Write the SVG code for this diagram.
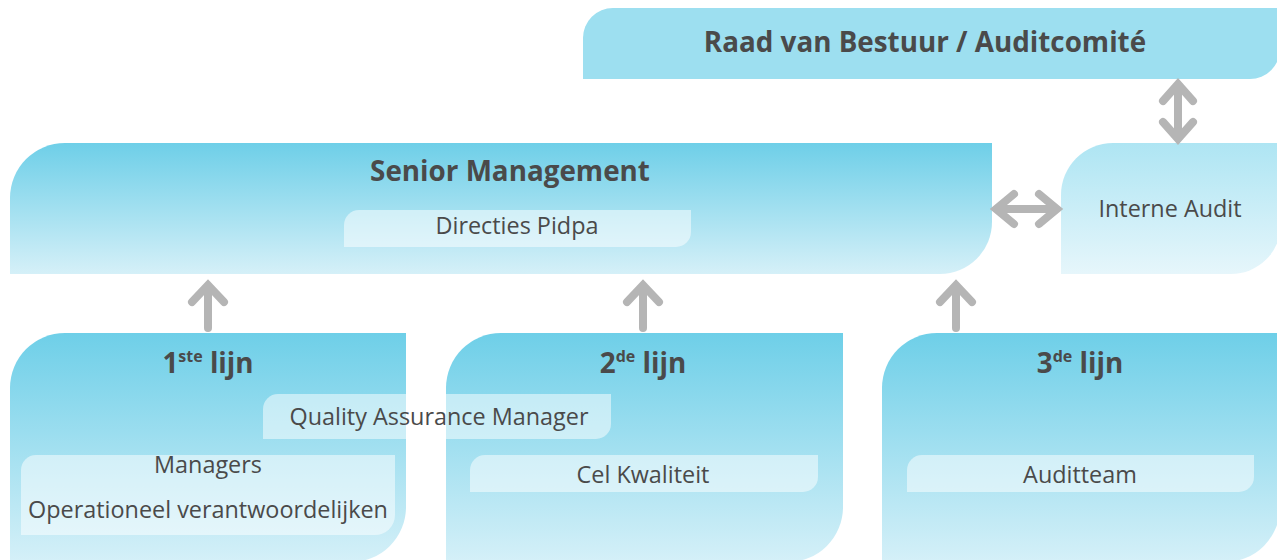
<svg xmlns="http://www.w3.org/2000/svg" width="1277" height="560" viewBox="0 0 1277 560">
<defs>
<linearGradient id="gMain" x1="0" y1="0" x2="0" y2="1">
<stop offset="0" stop-color="#6ecfe8"/><stop offset="1" stop-color="#d5f0f8"/>
</linearGradient>
<linearGradient id="gLight" x1="0" y1="0" x2="0" y2="1">
<stop offset="0" stop-color="#aee5f3"/><stop offset="1" stop-color="#e6f6fb"/>
</linearGradient>
<style>
.t{font-family:"Open Sans","Liberation Sans",sans-serif;fill:#4a4a4a;text-anchor:middle}
.b{font-weight:bold;font-size:27.8px}
.r{font-size:23.4px}
.sup{font-size:16px}
.inner{fill:#ffffff;fill-opacity:0.5}
.arr{fill:none;stroke:#b5b5b5;stroke-width:8;stroke-linecap:round;stroke-linejoin:miter}
</style>
</defs>
<g id="raad">
<path d="M583,38 A30,30 0 0 1 613,8 H1280 V49 A30,30 0 0 1 1250,79 H583 Z" fill="#9ddff0"/>
<text class="t b" x="925" y="52">Raad van Bestuur / Auditcomité</text>
</g>
<g id="senior">
<path d="M10,198 A55,55 0 0 1 65,143 H992 V222 A52,52 0 0 1 940,274 H10 Z" fill="url(#gMain)"/>
<text class="t b" x="510" y="181">Senior Management</text>
<path class="inner" d="M344,225 A15,15 0 0 1 359,210 H691 V232 A15,15 0 0 1 676,247 H344 Z"/>
<text class="t r" x="517" y="234">Directies Pidpa</text>
</g>
<g id="interne">
<path d="M1061,195 A52,52 0 0 1 1113,143 H1281 V224 A50,50 0 0 1 1231,274 H1061 Z" fill="url(#gLight)"/>
<text class="t r" x="1170" y="217">Interne Audit</text>
</g>
<g id="lijn1">
<path d="M10,388 A55,55 0 0 1 65,333 H406 V507 A55,55 0 0 1 351,562 H10 Z" fill="url(#gMain)"/>
<text class="t b" x="208" y="373">1<tspan class="sup" dy="-11">ste</tspan><tspan dy="11"> lijn</tspan></text>
<path class="inner" d="M21,470 A15,15 0 0 1 36,455 H395 V515 A20,20 0 0 1 375,535 H21 Z"/>
<text class="t r" x="208" y="473">Managers</text>
<text class="t r" x="208" y="518">Operationeel verantwoordelijken</text>
</g>
<g id="lijn2">
<path d="M446,388 A55,55 0 0 1 501,333 H843 V507 A55,55 0 0 1 788,562 H446 Z" fill="url(#gMain)"/>
<text class="t b" x="643" y="373">2<tspan class="sup" dy="-11">de</tspan><tspan dy="11"> lijn</tspan></text>
<path class="inner" d="M470,470 A15,15 0 0 1 485,455 H818 V477 A15,15 0 0 1 803,492 H470 Z"/>
<text class="t r" x="643" y="483">Cel Kwaliteit</text>
</g>
<g id="lijn3">
<path d="M882,388 A55,55 0 0 1 937,333 H1280 V507 A55,55 0 0 1 1225,562 H882 Z" fill="url(#gMain)"/>
<text class="t b" x="1080" y="373">3<tspan class="sup" dy="-11">de</tspan><tspan dy="11"> lijn</tspan></text>
<path class="inner" d="M907,470 A15,15 0 0 1 922,455 H1254 V477 A15,15 0 0 1 1239,492 H907 Z"/>
<text class="t r" x="1080" y="483">Auditteam</text>
</g>
<g id="qa">
<path class="inner" d="M263,409 A15,15 0 0 1 278,394 H611 V424 A15,15 0 0 1 596,439 H263 Z"/>
<text class="t r" x="439" y="425">Quality Assurance Manager</text>
</g>
<g id="connectors">
<path class="arr" d="M1178,86 V137 M1163,101 L1178,84 L1193,101 M1163,122 L1178,139 L1193,122"/>
<path class="arr" d="M998,209 H1055 M1014,194 L996,209 L1014,224 M1039,194 L1057,209 L1039,224"/>
<path class="arr" d="M208,288 V328 M192,302 L208,285 L224,302"/>
<path class="arr" d="M643,288 V328 M627,302 L643,285 L659,302"/>
<path class="arr" d="M956,288 V328 M940,302 L956,285 L972,302"/>
</g>
</svg>
